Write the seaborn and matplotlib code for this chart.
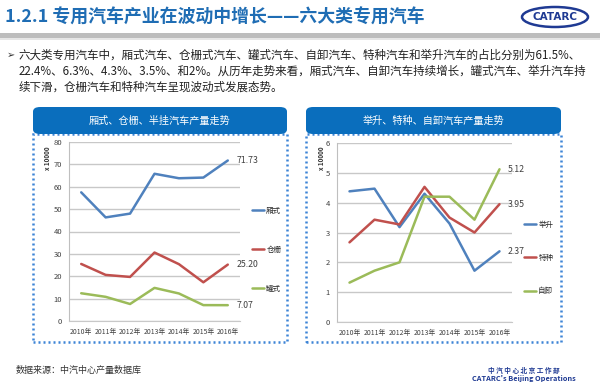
import matplotlib
matplotlib.use("Agg")
import matplotlib.pyplot as plt
from matplotlib.patches import Rectangle, FancyBboxPatch, Ellipse
from matplotlib.lines import Line2D
import pandas as pd
import seaborn as sns

# ---- data ----
years = ["2010年", "2011年", "2012年", "2013年", "2014年", "2015年", "2016年"]

# left chart (x 10000)
xiangshi = [57.5, 46.3, 48.0, 65.8, 63.8, 64.1, 71.73]
cangzha = [25.5, 20.6, 19.7, 30.6, 25.4, 17.3, 25.20]
guanshi = [12.4, 10.8, 7.6, 14.8, 12.3, 7.1, 7.07]
left_names = ["厢式", "仓栅", "罐式"]

# right chart (x 10000)
jusheng = [4.38, 4.47, 3.18, 4.30, 3.30, 1.72, 2.37]
tezhong = [2.67, 3.43, 3.27, 4.53, 3.50, 3.00, 3.95]
zixie = [1.32, 1.72, 2.00, 4.20, 4.20, 3.43, 5.12]
right_names = ["举升", "特种", "自卸"]

colors = ["#4F81BD", "#C0504D", "#9BBB59"]

sns.set_style("white")
plt.rcParams["font.family"] = ["Noto Sans CJK SC", "DejaVu Sans"]

W, H = 600, 385
fig = plt.figure(figsize=(6, 3.85), dpi=100)


def fx(x):
    return x / W


def fy(y):
    return 1 - y / H


# title area
fig.text(fx(5), fy(18), "1.2.1 专用汽车产业在波动中增长——六大类专用汽车",
         fontsize=12.9, fontweight="bold", color="#1F6DB4", va="center", ha="left")
fig.patches.append(Rectangle((0, fy(38)), 1, 5 / H, transform=fig.transFigure,
                             color="#BDBDBD", lw=0))
fig.patches.append(Rectangle((0, fy(40)), 1, 2 / H, transform=fig.transFigure,
                             color="#E6E6E6", lw=0))
fig.patches.append(Ellipse((fx(555), fy(17)), 66 / W, 20 / H, transform=fig.transFigure,
                           fill=False, ec="#1F3A93", lw=1.8))
fig.text(fx(555), fy(17.5), "CATARC", fontsize=7.5, fontweight="bold", color="#1F3A93",
         ha="center", va="center", family="DejaVu Sans")

# bullet text
fig.text(fx(7), fy(55), "➢", fontsize=7, color="#333333", va="center", family="DejaVu Sans")
lines = ["六大类专用汽车中，厢式汽车、仓栅式汽车、罐式汽车、自卸汽车、特种汽车和举升汽车的占比分别为61.5%、",
         "22.4%、6.3%、4.3%、3.5%、和2%。从历年走势来看，厢式汽车、自卸汽车持续增长，罐式汽车、举升汽车持",
         "续下滑，仓栅汽车和特种汽车呈现波动式发展态势。"]
for i, t in enumerate(lines):
    fig.text(fx(19), fy(55 + i * 16), t, fontsize=8.3, color="#222222", va="center", ha="left")

# panels
panels = [
    dict(x0=33, x1=287, title="厢式、仓栅、半挂汽车产量走势",
         ax=(69, 240, 142, 321), series=[xiangshi, cangzha, guanshi], names=left_names,
         ymax=80, ystep=10, fmt="{:.2f}", leg=(252, 250), legsp=38.5, ylab_x=48),
    dict(x0=306, x1=561, title="举升、特种、自卸汽车产量走势",
         ax=(337, 512, 143, 322), series=[jusheng, tezhong, zixie], names=right_names,
         ymax=6, ystep=1, fmt="{:.2f}", leg=(524, 258), legsp=33, ylab_x=321),
]

for p in panels:
    # dotted frame and header
    fig.patches.append(Rectangle((fx(p["x0"]), fy(342)), (p["x1"] - p["x0"]) / W, (342 - 134) / H,
                                 transform=fig.transFigure, fill=False, ec="#3C84D6",
                                 lw=1.8, ls=(0, (0.8, 1.2))))
    fig.patches.append(FancyBboxPatch((fx(p["x0"]), fy(134)), (p["x1"] - p["x0"]) / W, 27 / H,
                                      boxstyle="round,pad=0,rounding_size=0.012",
                                      transform=fig.transFigure, fc="#0A6EBD", ec="none"))
    fig.text(fx((p["x0"] + p["x1"]) / 2), fy(121), p["title"], fontsize=7.3, color="white",
             ha="center", va="center")

    l, r, t, b = p["ax"]
    ax = fig.add_axes([fx(l), fy(b), (r - l) / W, (b - t) / H])
    df = pd.DataFrame({
        "年份": years * 3,
        "产量": p["series"][0] + p["series"][1] + p["series"][2],
        "类型": [n for n in p["names"] for _ in years],
    })
    sns.lineplot(data=df, x="年份", y="产量", hue="类型", palette=dict(zip(p["names"], colors)),
                 sort=False, lw=1.8, legend=False, ax=ax)
    ax.set_xlim(-0.5, 6.5)
    ax.set_ylim(0, p["ymax"])
    ax.set_yticks(range(0, p["ymax"] + 1, p["ystep"]))
    ax.yaxis.grid(True, color="#C8C8C8", lw=1)
    ax.set_axisbelow(True)
    for s in ["top", "right"]:
        ax.spines[s].set_visible(False)
    ax.spines["left"].set_color("#BFBFBF")
    ax.spines["bottom"].set_color("#C8C8C8")
    ax.tick_params(axis="both", length=0, colors="#404040", pad=5)
    ax.tick_params(axis="y", labelsize=5.5)
    ax.tick_params(axis="x", labelsize=4.9)
    ax.set_xlabel("")
    ax.set_ylabel("")

    # end-of-line labels
    for vals in p["series"]:
        ax.annotate(p["fmt"].format(vals[-1]), (6, vals[-1]), xytext=(6, 0),
                    textcoords="offset points", fontsize=6.3, color="#404040", va="center")

    fig.text(fx(p["ylab_x"]), fy(158), "x 10000", rotation=90, fontsize=4.5,
             fontweight="bold", color="#333333", ha="center", va="center")

    handles = [Line2D([], [], color=c, lw=1.8) for c in colors]
    lx, ly = p["leg"]
    ax.legend(handles, p["names"], loc="center left",
              bbox_to_anchor=((lx - l) / (r - l), (b - ly) / (b - t)),
              frameon=False, fontsize=5.4, handlelength=1.6, handletextpad=0.3,
              borderpad=0, borderaxespad=0,
              labelspacing=(p["legsp"] - 7.5) / 7.5)

# footer
fig.text(fx(16), fy(370), "数据来源：中汽中心产量数据库", fontsize=6.5, color="#333333",
         ha="left", va="center")
fig.text(fx(524), fy(370), "中 汽 中 心 北 京 工 作 部", fontsize=4.8, color="#1F3A93",
         fontweight="bold", ha="center", va="center")
fig.text(fx(524), fy(379), "CATARC's Beijing Operations", fontsize=5.3, color="#1F3A93",
         fontweight="bold", ha="center", va="center")

fig.savefig("out.png", dpi=100)
